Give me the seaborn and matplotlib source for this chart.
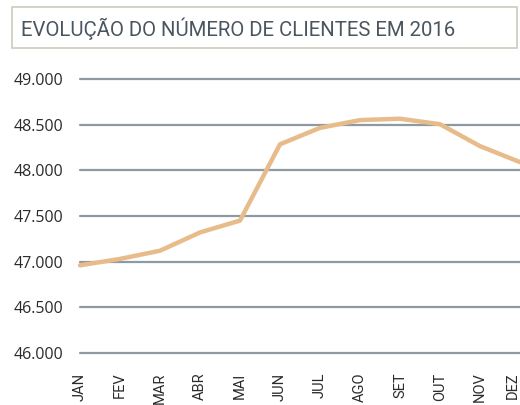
import pandas as pd
import matplotlib.pyplot as plt
import matplotlib.patches as mpatches
import seaborn as sns

# %%
meses = ["JAN", "FEV", "MAR", "ABR", "MAI", "JUN", "JUL", "AGO", "SET", "OUT", "NOV", "DEZ"]
clientes = [46960, 47030, 47120, 47320, 47450, 48285, 48465, 48550, 48565, 48505, 48265, 48090]
y_ticks = [46000, 46500, 47000, 47500, 48000, 48500, 49000]
titulo = "EVOLUÇÃO DO NÚMERO DE CLIENTES EM 2016"

data = pd.DataFrame({"mes": meses, "clientes": clientes})
data["pos"] = range(len(meses))

# %%
sns.set_style("white")
plt.rcParams["font.family"] = ["Open Sans", "DejaVu Sans"]
narrow = ["Roboto", "DejaVu Sans"]

fig = plt.figure(figsize = (5.2, 4.05), dpi = 100)
ax = fig.add_axes([80 / 520, (405 - 353) / 405, 440 / 520, 274 / 405])

for v in y_ticks:
    ax.axhline(v, color = "#8E9AA1", linewidth = 1.6, zorder = 1, clip_on = False)

sns.lineplot(x = "pos", y = "clientes", data = data, color = "#E8BC8A", linewidth = 3.2, ax = ax, zorder = 3, clip_on = False)

ax.set_xlim(0, 11)
ax.set_ylim(46000, 49000)
ax.set_yticks(y_ticks)
ax.set_yticklabels([f"{v:,}".replace(",", ".") for v in y_ticks], fontsize = 11.5, color = "#2b2b2b")
ax.set_xticks(range(len(meses)))
ax.set_xticklabels(meses, rotation = 90, fontsize = 10.5, color = "#2b2b2b", va = "top", family = narrow)
ax.tick_params(axis = "y", length = 0, pad = 12)
ax.tick_params(axis = "x", length = 0, pad = 14)
ax.set_xlabel("")
ax.set_ylabel("")
sns.despine(ax = ax, left = True, bottom = True)

# last month label sits at the right edge
ax.get_xticklabels()[-1].set_ha("right")

# title box
fig.patches.append(mpatches.Rectangle((12 / 520, 1 - 48 / 405), 505 / 520, 41 / 405, transform = fig.transFigure,
                                      fill = False, edgecolor = "#C9CDBB", linewidth = 1.2))
fig.text(21 / 520, 1 - 29 / 405, titulo, fontsize = 14.7, color = "#4A5560", va = "center", ha = "left", family = narrow)

plt.savefig("out.png", dpi = 100)
